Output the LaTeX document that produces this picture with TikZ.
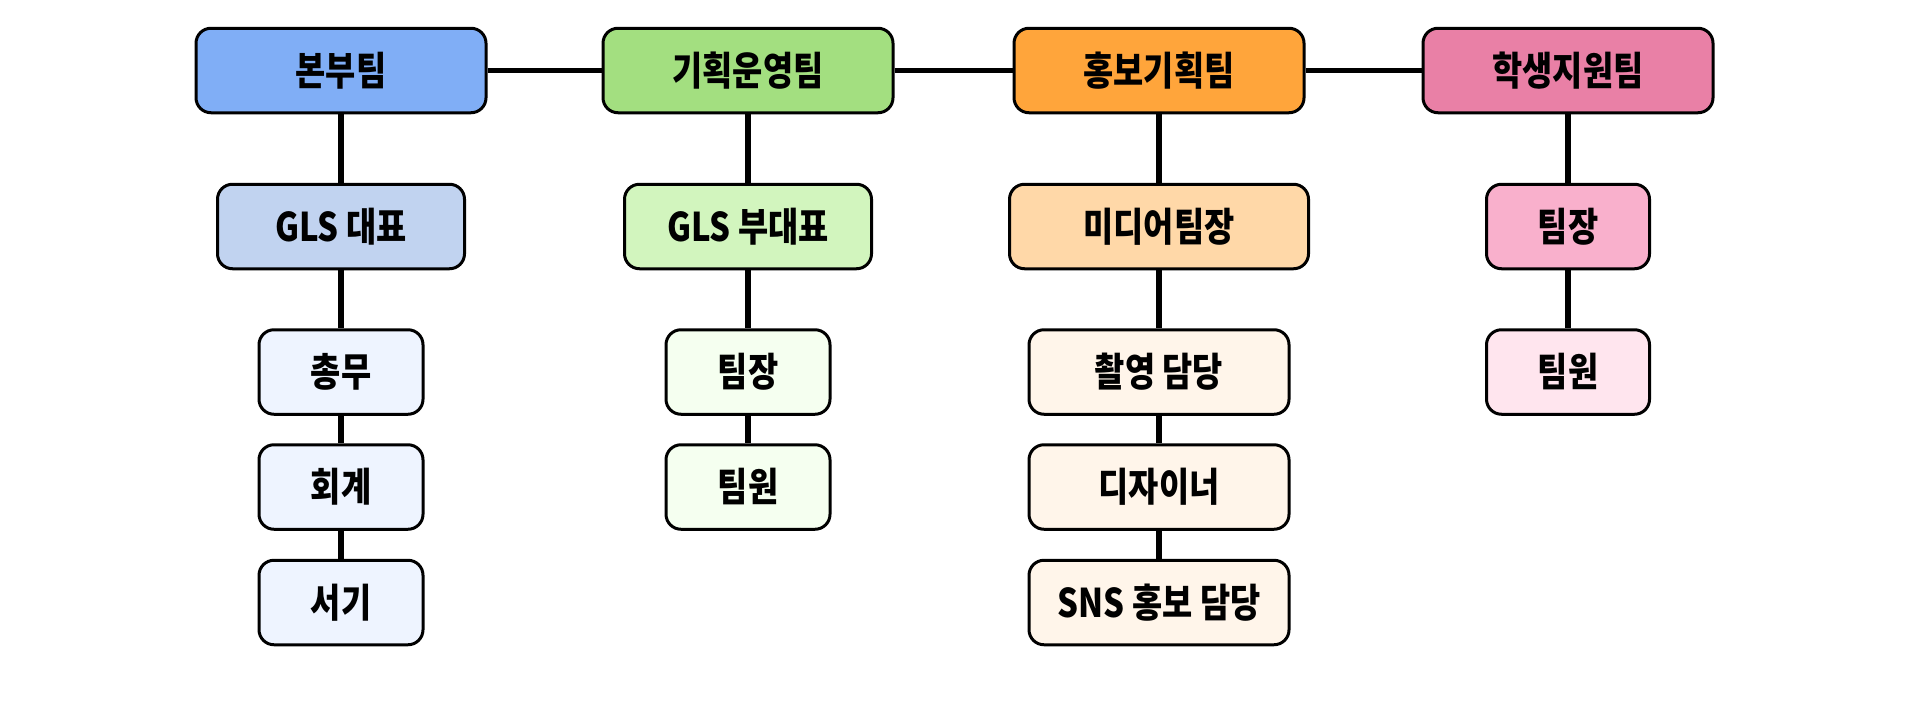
\documentclass[tikz,border=0pt]{standalone}
\usepackage{fontspec}
\setmainfont{Noto Sans CJK KR}[FakeStretch=0.83]
\usetikzlibrary{positioning}

\definecolor{bonbu}{HTML}{80AEF6}
\definecolor{bonbulead}{HTML}{C1D3F0}
\definecolor{bonbusub}{HTML}{EEF4FF}
\definecolor{gihoek}{HTML}{A3DF80}
\definecolor{gihoeklead}{HTML}{D2F5BE}
\definecolor{gihoeksub}{HTML}{F5FFF0}
\definecolor{hongbo}{HTML}{FFA53B}
\definecolor{hongbolead}{HTML}{FFD8A8}
\definecolor{hongbosub}{HTML}{FFF5EA}
\definecolor{haksaeng}{HTML}{E980A6}
\definecolor{haksaenglead}{HTML}{F9B0CC}
\definecolor{haksaengsub}{HTML}{FFE5EE}

\tikzset{
    teambox/.style={draw=black, line width=0.06cm, rounded corners=0.3cm,
        minimum height=1.69cm, inner sep=0pt,
        font=\bfseries\fontsize{22.5}{26}\selectfont},
    link/.style={line width=0.11cm, black}
}

\begin{document}
\begin{tikzpicture}
    \useasboundingbox (0,0) rectangle (38.4,-14.2);

    % Top row - teams
    \node[teambox, fill=bonbu, minimum width=5.8cm] (bonbu) at (6.82,-1.41) {본부팀};
    \node[teambox, fill=gihoek, minimum width=5.8cm] (gihoek) at (14.96,-1.41) {기획운영팀};
    \node[teambox, fill=hongbo, minimum width=5.8cm] (hongbo) at (23.18,-1.41) {홍보기획팀};
    \node[teambox, fill=haksaeng, minimum width=5.8cm] (haksaeng) at (31.36,-1.41) {학생지원팀};

    % Second row - leads
    \node[teambox, fill=bonbulead, minimum width=4.94cm] (glsrep) at (6.82,-4.53) {GLS 대표};
    \node[teambox, fill=gihoeklead, minimum width=4.94cm] (glsvice) at (14.96,-4.53) {GLS 부대표};
    \node[teambox, fill=hongbolead, minimum width=5.98cm] (medialead) at (23.18,-4.53) {미디어팀장};
    \node[teambox, fill=haksaenglead, minimum width=3.26cm] (hslead) at (31.36,-4.53) {팀장};

    % Lower rows - members
    \node[teambox, fill=bonbusub, minimum width=3.28cm] (chongmu) at (6.82,-7.44) {총무};
    \node[teambox, fill=bonbusub, minimum width=3.28cm] (hoegye) at (6.82,-9.74) {회계};
    \node[teambox, fill=bonbusub, minimum width=3.28cm] (seogi) at (6.82,-12.05) {서기};

    \node[teambox, fill=gihoeksub, minimum width=3.28cm] (gilead) at (14.96,-7.44) {팀장};
    \node[teambox, fill=gihoeksub, minimum width=3.28cm] (gimember) at (14.96,-9.74) {팀원};

    \node[teambox, fill=hongbosub, minimum width=5.2cm] (filming) at (23.18,-7.44) {촬영 담당};
    \node[teambox, fill=hongbosub, minimum width=5.2cm] (designer) at (23.18,-9.74) {디자이너};
    \node[teambox, fill=hongbosub, minimum width=5.2cm] (sns) at (23.18,-12.05) {SNS 홍보 담당};

    \node[teambox, fill=haksaengsub, minimum width=3.26cm] (hsmember) at (31.36,-7.44) {팀원};

    % Connectors
    \draw[link] (bonbu) -- (gihoek);
    \draw[link] (gihoek) -- (hongbo);
    \draw[link] (hongbo) -- (haksaeng);

    \draw[link] (bonbu) -- (glsrep);
    \draw[link] (glsrep) -- (chongmu);
    \draw[link] (chongmu) -- (hoegye);
    \draw[link] (hoegye) -- (seogi);

    \draw[link] (gihoek) -- (glsvice);
    \draw[link] (glsvice) -- (gilead);
    \draw[link] (gilead) -- (gimember);

    \draw[link] (hongbo) -- (medialead);
    \draw[link] (medialead) -- (filming);
    \draw[link] (filming) -- (designer);
    \draw[link] (designer) -- (sns);

    \draw[link] (haksaeng) -- (hslead);
    \draw[link] (hslead) -- (hsmember);
\end{tikzpicture}
\end{document}
